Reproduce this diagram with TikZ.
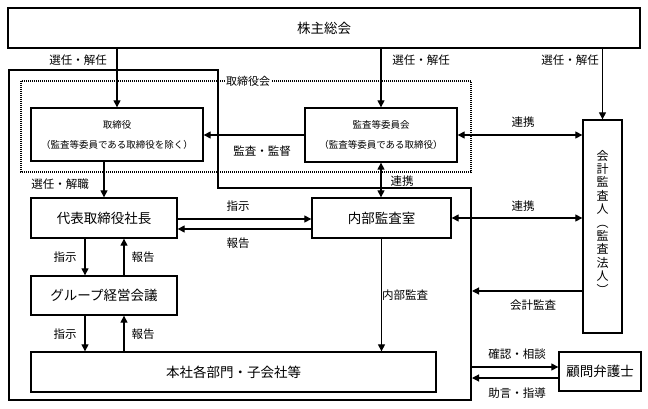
\documentclass[tikz,border=0pt]{standalone}
\usepackage{fontspec}
\setmainfont{Noto Sans CJK JP}
\usetikzlibrary{arrows.meta}
\begin{document}
\begin{tikzpicture}[x=1pt,y=-1pt,
  box/.style={draw, line width=1.3pt, inner sep=0pt, align=center},
  arr/.style={line width=1.1pt, -{Triangle[length=7pt,width=7pt]}},
  barr/.style={line width=1.1pt, {Triangle[length=7pt,width=7pt]}-{Triangle[length=7pt,width=7pt]}},
  lbl/.style={inner sep=0pt, font=\fontsize{11.5}{13}\selectfont},
  big/.style={font=\fontsize{13.5}{16}\selectfont},
  small/.style={font=\fontsize{9.5}{20}\selectfont}]
\useasboundingbox[fill=white] (0,0) rectangle (648,409);

% company outline and board of directors
\draw[line width=2pt] (9,70) -- (218,70) -- (218,188) -- (471,188) -- (471,400) -- (9,400) -- cycle;
\draw[line width=1.5pt, dash pattern=on 1pt off 1pt] (21,81) rectangle (471,172);
\node[fill=white, inner sep=1.5pt, font=\fontsize{11}{13}\selectfont] (tkai) at (248,81) {取締役会};

\coordinate (audit) at (472,291);
\coordinate (c1) at (471,367);
\coordinate (c2) at (472,378);

% boxes
\node[box, big, minimum width=632pt, minimum height=40pt] (soukai) at (324,28) {株主総会};
\node[box, small, minimum width=172pt, minimum height=53pt] (tori) at (117,134.5) {取締役\\（監査等委員である取締役を除く）};
\node[box, small, minimum width=152pt, minimum height=54pt] (kansa) at (381,135) {監査等委員会\\（監査等委員である取締役）};
\node[box, minimum width=39pt, minimum height=213pt] (kaikei) at (602.5,226.5) {};
\node[align=center, inner sep=0pt, font=\fontsize{12}{13.4}\selectfont] (kaikeit) at (602.5,222) {会\\計\\監\\査\\人\\︵\\監\\査\\法\\人\\︶};
\node[box, big, minimum width=146pt, minimum height=40pt] (daihyo) at (104,218) {代表取締役社長};
\node[box, big, minimum width=139pt, minimum height=40pt] (naibu) at (381.5,218) {内部監査室};
\node[box, big, minimum width=146pt, minimum height=39pt] (group) at (104,295.5) {グループ経営会議};
\node[box, big, minimum width=405pt, minimum height=40pt] (honsha) at (233.5,372) {本社各部門・子会社等};
\node[box, big, minimum width=82pt, minimum height=39pt] (komon) at (600,371.5) {顧問弁護士};

% connectors from shareholders meeting
\draw[arr] (tori.north |- soukai.south) -- (tori.north);
\draw[arr] (kansa.north |- soukai.south) -- (kansa.north);
\draw[arr] (kaikei.north |- soukai.south) -- (kaikei.north);
\node[lbl] (l1) at (78,60) {選任・解任};
\node[lbl] (l2) at (421,60) {選任・解任};
\node[lbl] (l3) at (570,60) {選任・解任};

% audit & supervision
\draw[arr] (kansa.west) -- (kansa.west -| tori.east);
\node[lbl] (l4) at (262,151) {監査・監督};
\draw[barr] (kansa.east) -- (kansa.east -| kaikei.west);
\node[lbl] (l5) at (523,122) {連携};

% appointment of president
\draw[arr] (daihyo.north |- tori.south) -- (daihyo.north);
\node[lbl] (l6) at (60,184) {選任・解職};

% president <-> internal audit
\draw[arr] ([yshift=-1pt]daihyo.east) -- ([yshift=-1pt]daihyo.east -| naibu.west);
\node[lbl] (l7) at (238,206) {指示};
\draw[arr] ([yshift=-11pt]naibu.west) -- ([yshift=-11pt]naibu.west -| daihyo.east);
\node[lbl] (l8) at (238,243) {報告};

% audit committee <-> internal audit
\draw[barr] (kansa.south) -- (naibu.north -| kansa.south);
\node[lbl] (l9) at (402,181) {連携};
\draw[barr] (naibu.east) -- (naibu.east -| kaikei.west);
\node[lbl] (l10) at (523,206) {連携};

% president <-> group meeting
\draw[arr] (85,238) coordinate (p1) -- (p1 |- group.north);
\draw[arr] (124,276) coordinate (p2) -- (p2 |- daihyo.south);
\node[lbl] (l11) at (65,257) {指示};
\node[lbl] (l12) at (143,257) {報告};

% group meeting <-> departments
\draw[arr] (85,315) coordinate (p3) -- (p3 |- honsha.north);
\draw[arr] (124,352) coordinate (p4) -- (p4 |- group.south);
\node[lbl] (l13) at (65,334) {指示};
\node[lbl] (l14) at (143,334) {報告};

% internal audit
\draw[arr] (naibu.south) -- (naibu.south |- honsha.north);
\node[lbl] (l15) at (405,295) {内部監査};

% accounting audit
\draw[arr] (kaikei.west |- audit) -- (audit);
\node[lbl] (l16) at (533,305) {会計監査};

% legal counsel
\draw[arr] (c1) -- (komon.west |- c1);
\node[lbl] (l17) at (517,354) {確認・相談};
\draw[arr] (komon.west |- c2) -- (c2);
\node[lbl] (l18) at (517,393) {助言・指導};
\end{tikzpicture}
\end{document}
